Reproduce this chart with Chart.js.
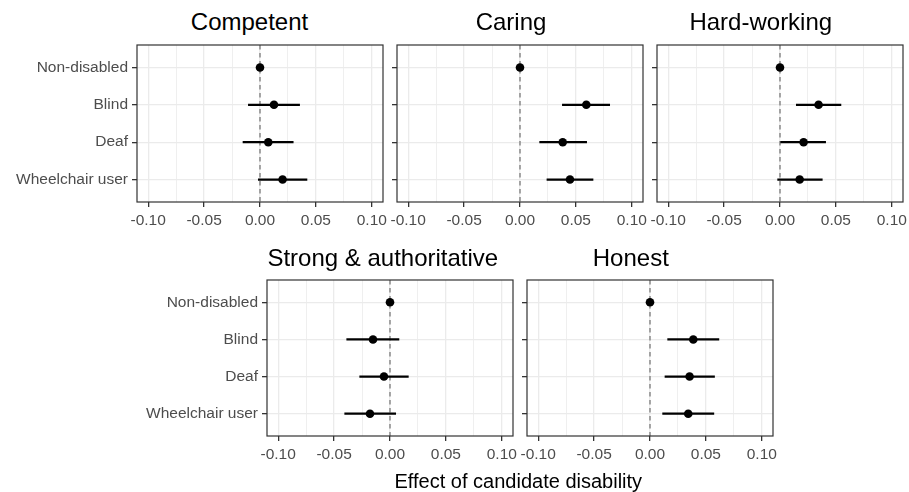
<!DOCTYPE html>
<html><head><meta charset="utf-8">
<script src="https://cdn.jsdelivr.net/npm/chart.js@4.4.1/dist/chart.umd.min.js"></script>
<style>
html,body{margin:0;padding:0;background:#fff;}
#wrap{position:relative;width:909px;height:492px;overflow:hidden;background:#fff;font-family:"Liberation Sans",Arial,sans-serif;}
#wrap canvas{position:absolute;}
.ttl{position:absolute;white-space:nowrap;transform:translateX(-50%);color:#000;}
</style></head><body><div id="wrap"></div>
<script>
// ---- data ----
const categories = ['Non-disabled', 'Blind', 'Deaf', 'Wheelchair user'];
const traits = ['Competent', 'Caring', 'Hard-working', 'Strong & authoritative', 'Honest'];

const competentEst = [0, 0.0125, 0.0074, 0.0202];
const competentLo  = [0, -0.0107, -0.0155, -0.0018];
const competentHi  = [0, 0.0357, 0.0300, 0.0423];

const caringEst = [0, 0.0593, 0.0382, 0.0447];
const caringLo  = [0, 0.0376, 0.0173, 0.0238];
const caringHi  = [0, 0.0805, 0.0599, 0.0656];

const hardEst = [0, 0.0345, 0.0211, 0.0176];
const hardLo  = [0, 0.0143, 0.0003, -0.0024];
const hardHi  = [0, 0.0548, 0.0411, 0.0381];

const strongEst = [0, -0.0152, -0.0054, -0.0179];
const strongLo  = [0, -0.0390, -0.0274, -0.0408];
const strongHi  = [0, 0.0083, 0.0167, 0.0054];

const honestEst = [0, 0.0387, 0.0354, 0.0342];
const honestLo  = [0, 0.0155, 0.0131, 0.0110];
const honestHi  = [0, 0.0619, 0.0580, 0.0574];

const xTickValues = [-0.10, -0.075, -0.05, -0.025, 0, 0.025, 0.05, 0.075, 0.10];
const xMin = -0.11, xMax = 0.11;
const refValue = 0;
const xAxisTitle = 'Effect of candidate disability';

// ---- layout / style ----
const FONT = '"Liberation Sans", Arial, Helvetica, sans-serif';
const yMin = 0.4, yMax = 4.6;
const panels = [
  {t:0, est:competentEst, lo:competentLo, hi:competentHi, left:137, top:45,  w:246, h:157, showY:true,  tx:249.5, tt:10.4},
  {t:1, est:caringEst,    lo:caringLo,    hi:caringHi,    left:397, top:45,  w:246, h:157, showY:false, tx:511,   tt:10.4},
  {t:2, est:hardEst,      lo:hardLo,      hi:hardHi,      left:657, top:45,  w:246, h:157, showY:false, tx:760.8, tt:10.4},
  {t:3, est:strongEst,    lo:strongLo,    hi:strongHi,    left:267, top:280, w:246, h:156, showY:true,  tx:382.8, tt:246.4},
  {t:4, est:honestEst,    lo:honestLo,    hi:honestHi,    left:527, top:280, w:246, h:156, showY:false, tx:630.8, tt:246.4}
];

const isMajor = v => Math.abs(v * 20 - Math.round(v * 20)) < 1e-6;

const borderPlugin = {
  id: 'panelBorder',
  afterDatasetsDraw(chart) {
    const a = chart.chartArea, ctx = chart.ctx;
    ctx.save();
    ctx.strokeStyle = '#333333';
    ctx.lineWidth = 1.2;
    ctx.strokeRect(a.left, a.top, a.right - a.left, a.bottom - a.top);
    ctx.restore();
  }
};

const wrap = document.getElementById('wrap');

panels.forEach(p => {
  const yW = p.showY ? 137 : 12;
  const padT = 6, padR = 24, xH = 44;
  const cw = yW + p.w + padR, ch = padT + p.h + xH;
  const cv = document.createElement('canvas');
  cv.width = cw; cv.height = ch;
  cv.style.width = cw + 'px'; cv.style.height = ch + 'px';
  cv.style.left = (p.left - yW) + 'px';
  cv.style.top = (p.top - padT) + 'px';
  wrap.appendChild(cv);

  const title = document.createElement('div');
  title.className = 'ttl';
  title.textContent = traits[p.t];
  title.style.left = p.tx + 'px';
  title.style.top = p.tt + 'px';
  title.style.font = '24px/24px ' + FONT;
  wrap.appendChild(title);

  const datasets = [];
  datasets.push({
    label: 'estimate',
    data: categories.map((c, i) => ({x: p.est[i], y: i + 1})),
    showLine: false, pointRadius: 4.3, pointBackgroundColor: '#000', pointBorderWidth: 0,
    order: 0
  });
  categories.forEach((c, i) => {
    datasets.push({
      label: c + ' CI',
      data: [{x: p.lo[i], y: i + 1}, {x: p.hi[i], y: i + 1}],
      showLine: true, borderColor: '#000', borderWidth: 2.2, pointRadius: 0,
      order: 1
    });
  });
  datasets.push({
    label: 'zero',
    data: [{x: refValue, y: yMin}, {x: refValue, y: yMax}],
    showLine: true, borderColor: '#7a7a7a', borderWidth: 1.3, borderDash: [4.5, 3.5], pointRadius: 0,
    order: 2
  });

  new Chart(cv, {
    type: 'scatter',
    data: {datasets},
    plugins: [borderPlugin],
    options: {
      responsive: false, animation: false, events: [],
      layout: {autoPadding: false, padding: {left: 0, top: padT, right: padR, bottom: 0}},
      plugins: {legend: {display: false}, tooltip: {enabled: false}, title: {display: false}},
      scales: {
        x: {
          type: 'linear', min: xMin, max: xMax,
          afterBuildTicks: s => { s.ticks = xTickValues.map(v => ({value: v})); },
          afterFit: s => { s.height = xH; s.paddingLeft = 0; s.paddingRight = 0; s.paddingTop = 0; s.paddingBottom = 0; },
          border: {display: false},
          grid: {
            color: '#ebebeb',
            lineWidth: c => (c.tick && isMajor(c.tick.value)) ? 1.3 : 0.8,
            tickColor: c => (c.tick && isMajor(c.tick.value)) ? '#333333' : 'rgba(0,0,0,0)',
            tickLength: 5, drawTicks: true
          },
          ticks: {
            autoSkip: false, maxRotation: 0, padding: 4, color: '#4d4d4d',
            font: {family: FONT, size: 15.5},
            callback: v => isMajor(v) ? Number(v).toFixed(2) : ''
          }
        },
        y: {
          type: 'linear', min: yMin, max: yMax, reverse: true,
          afterBuildTicks: s => { s.ticks = categories.map((c, i) => ({value: i + 1})); },
          afterFit: s => { s.width = yW; s.paddingLeft = 0; s.paddingRight = 0; s.paddingTop = 0; s.paddingBottom = 0; },
          border: {display: false},
          grid: {color: '#ebebeb', lineWidth: 1.3, tickColor: '#333333', tickLength: 5},
          ticks: {
            display: p.showY, padding: 4, color: '#4d4d4d',
            font: {family: FONT, size: 15.5},
            callback: v => categories[Math.round(v) - 1] || ''
          }
        }
      }
    }
  });
});

const xt = document.createElement('div');
xt.className = 'ttl';
xt.textContent = xAxisTitle;
xt.style.left = '518.3px';
xt.style.top = '471.4px';
xt.style.font = '20px/20px ' + FONT;
wrap.appendChild(xt);
</script>
</body></html>
